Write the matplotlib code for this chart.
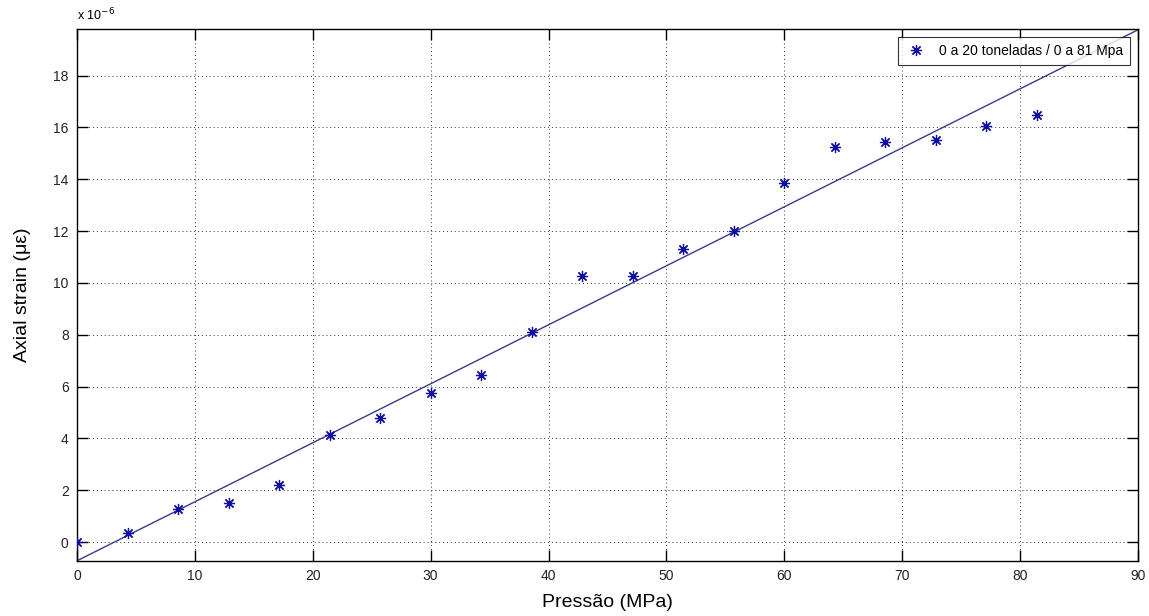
import numpy as np
import matplotlib
matplotlib.use("Agg")
import matplotlib.pyplot as plt

plt.rcParams['font.family'] = ['Liberation Sans', 'DejaVu Sans']

# pressure (MPa) and axial strain (x 1e-6)
pressao = [0, 4.29, 8.57, 12.86, 17.14, 21.43, 25.71, 30.0, 34.29, 38.57,
           42.86, 47.14, 51.43, 55.71, 60.0, 64.29, 68.57, 72.86, 77.14, 81.43]
strain = [0.0, 0.35, 1.27, 1.52, 2.2, 4.12, 4.8, 5.75, 6.45, 8.1,
          10.25, 10.25, 11.3, 12.0, 13.85, 15.25, 15.45, 15.5, 16.05, 16.5]

x_ticks = list(range(0, 91, 10))
y_ticks = list(range(0, 19, 2))

fig = plt.figure(figsize=(11.49, 6.16), dpi=100)
ax = fig.add_axes([0.067, 0.0893, 0.9234, 0.8636])

# matlab style asterisk marker
ax.plot(pressao, strain, linestyle='none', marker=(8, 2, 0), markersize=8,
        markeredgewidth=0.9, color='#1010a0',
        label='0 a 20 toneladas / 0 a 81 Mpa', zorder=3)

# least squares line across the axes
coef = np.polyfit(pressao, strain, 1)
xl = np.array([0, 90])
ax.plot(xl, np.polyval(coef, xl), color='#3a3a8a', linewidth=1, zorder=2)

ax.set_xlim(0, 90)
ax.set_ylim(-0.73, 19.8)
ax.set_xticks(x_ticks)
ax.set_yticks(y_ticks)
ax.tick_params(direction='in', length=8, width=1, top=True, right=True,
               labelsize=10, pad=6, labelcolor='#222222')
ax.grid(True, linestyle=(0, (1, 3)), color='#333333', linewidth=0.7)
for s in ax.spines.values():
    s.set_linewidth(1)

ax.text(0, 1.01, 'x 10$^{-6}$', transform=ax.transAxes, fontsize=9,
        ha='left', va='bottom')

ax.set_xlabel('Pressão (MPa)', fontsize=14, labelpad=8)
ax.set_ylabel('Axial strain (με)', fontsize=14, labelpad=16)

leg = ax.legend(loc='upper right', fontsize=10, frameon=True, fancybox=False,
                edgecolor='black', borderaxespad=0.6, handlelength=1.6,
                borderpad=0.5)
leg.get_frame().set_linewidth(0.8)

fig.savefig('out.png', dpi=100)
